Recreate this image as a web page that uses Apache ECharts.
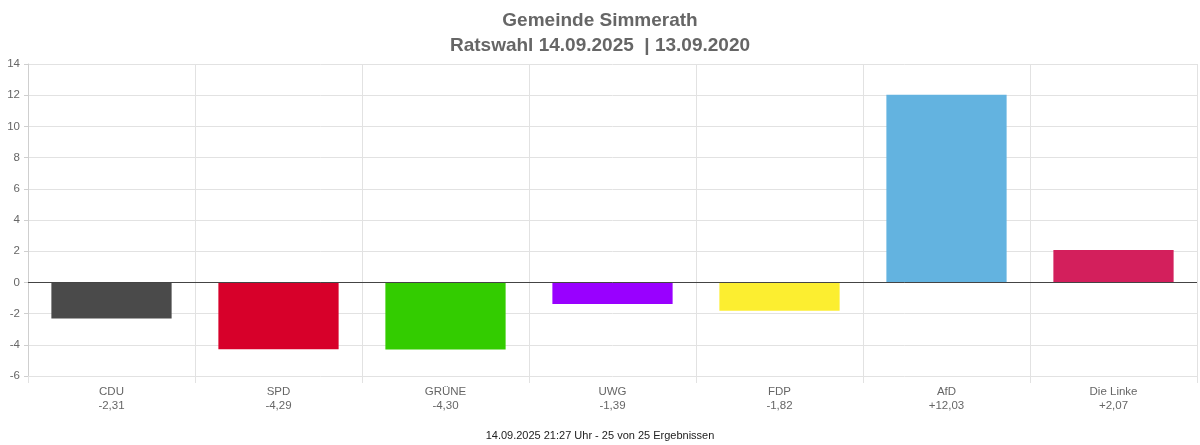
<!DOCTYPE html>
<html>
<head>
<meta charset="utf-8">
<script src="https://cdn.jsdelivr.net/npm/echarts@6/dist/echarts.min.js"></script>
<style>
  html, body { margin: 0; padding: 0; background: #fff; }
  #main { width: 1200px; height: 445px; }
</style>
</head>
<body>
<div id="main"></div>
<script>
// Parteien und Gewinne/Verluste (Prozentpunkte)
const parties = ["CDU", "SPD", "GRÜNE", "UWG", "FDP", "AfD", "Die Linke"];
const diffs = [-2.31, -4.29, -4.30, -1.39, -1.82, 12.03, 2.07];
const colors = ["#4a4a4a", "#d7002a", "#33cc00", "#9900ff", "#fcee30", "#63b3e0", "#d31f5c"];
const yTicks = [-6, -4, -2, 0, 2, 4, 6, 8, 10, 12, 14];

function fmt(v) {
  const s = Math.abs(v).toFixed(2).replace(".", ",");
  return (v > 0 ? "+" : "-") + s;
}

var chart = echarts.init(document.getElementById("main"));
chart.setOption({
  animation: false,
  title: [
    {
      text: "Gemeinde Simmerath\nRatswahl 14.09.2025  | 13.09.2020",
      left: "center",
      top: 3,
      textStyle: {
        fontFamily: "Liberation Sans, Arial",
        fontSize: 19,
        fontWeight: "bold",
        color: "#666",
        lineHeight: 25,
      },
    },
    {
      text: "14.09.2025 21:27 Uhr - 25 von 25 Ergebnissen",
      left: "center",
      top: 425,
      textStyle: {
        fontFamily: "Liberation Sans, Arial",
        fontSize: 11,
        fontWeight: "normal",
        color: "#222",
      },
    },
  ],
  grid: { left: 28, right: 3, top: 64, bottom: 69 },
  xAxis: {
    type: "category",
    data: parties,
    axisLine: { show: false, onZero: false },
    axisTick: { show: true, length: 7, lineStyle: { color: "#e2e2e2" } },
    splitLine: { show: true, lineStyle: { color: "#e2e2e2" } },
    axisLabel: {
      fontFamily: "Liberation Sans, Arial",
      fontSize: 11.5,
      color: "#666",
      lineHeight: 14,
      margin: 9,
      interval: 0,
      formatter: function (val, i) {
        return val + "\n" + fmt(diffs[i]);
      },
    },
  },
  yAxis: {
    type: "value",
    min: yTicks[0],
    max: yTicks[yTicks.length - 1],
    interval: 2,
    axisLine: { show: true, lineStyle: { color: "#cfcfcf", width: 1 } },
    axisTick: { show: true, length: 4, lineStyle: { color: "#cfcfcf" } },
    splitLine: { show: true, lineStyle: { color: "#e2e2e2" } },
    axisLabel: {
      fontFamily: "Liberation Sans, Arial",
      fontSize: 11.5,
      color: "#666",
      margin: 8,
    },
  },
  series: [
    {
      type: "bar",
      barWidth: "72%",
      data: diffs.map((v, i) => ({ value: v, itemStyle: { color: colors[i] } })),
      markLine: {
        silent: true,
        symbol: "none",
        label: { show: false },
        lineStyle: { color: "#444", type: "solid", width: 1 },
        data: [{ yAxis: 0 }],
      },
    },
  ],
});
</script>
</body>
</html>
